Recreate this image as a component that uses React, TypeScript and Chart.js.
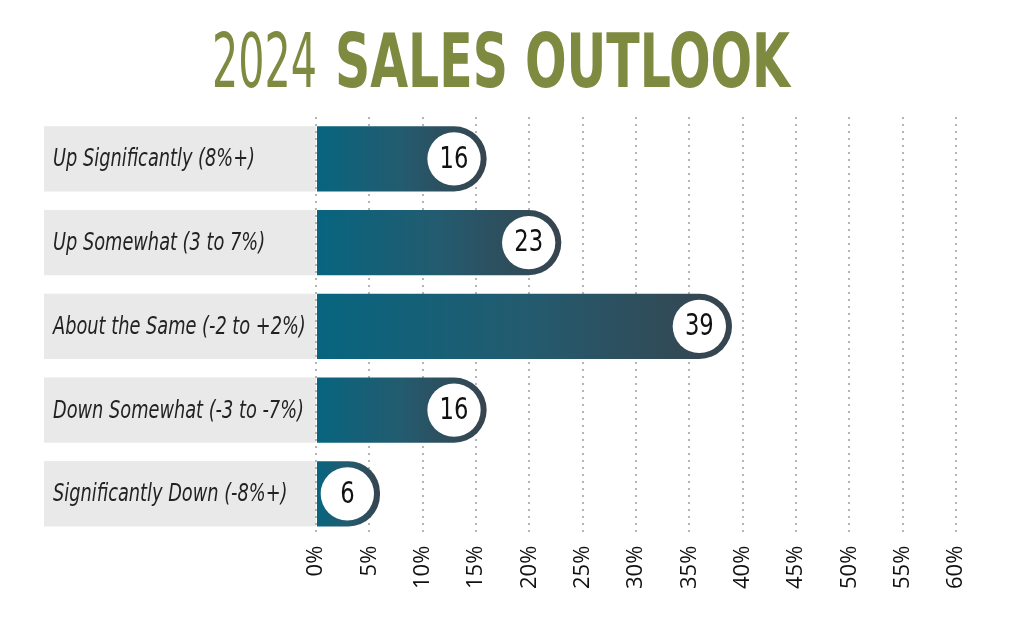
import { useRef, useEffect } from 'react';
import { Chart, registerables } from 'chart.js';

Chart.register(...registerables);

// chart data
const categories = [
  'Up Significantly (8%+)',
  'Up Somewhat (3 to 7%)',
  'About the Same (-2 to +2%)',
  'Down Somewhat (-3 to -7%)',
  'Significantly Down (-8%+)',
];
const percentages = [16, 23, 39, 16, 6];
const axisMax = 60;
const axisStep = 5;

const titleLight = '2024';
const titleBold = 'SALES OUTLOOK';

const NARROW = "'Liberation Sans Narrow', 'DejaVu Sans Condensed', 'Roboto Condensed', sans-serif";

// draw text squeezed horizontally so it reads like a condensed face
function squeezed(ctx: any, text: string, x: number, y: number, sx: number) {
  ctx.save();
  ctx.translate(x, y);
  ctx.scale(sx, 1);
  ctx.fillText(text, 0, 0);
  ctx.restore();
}

// title drawn in two weights
const titlePlugin = {
  id: 'twoWeightTitle',
  beforeDraw(chart: any) {
    const ctx = chart.ctx;
    ctx.save();
    ctx.fillStyle = '#7e8a40';
    ctx.textBaseline = 'alphabetic';
    ctx.textAlign = 'left';
    ctx.font = `normal 75px ${NARROW}`;
    const w1 = ctx.measureText(titleLight).width;
    squeezed(ctx, titleLight, 204, 79, 105 / w1);
    ctx.font = `bold 75px ${NARROW}`;
    const w2 = ctx.measureText(titleBold).width;
    squeezed(ctx, titleBold, 327, 79, 455 / w2);
    ctx.restore();
  },
};

// grey boxes and category labels on the left
const labelBoxPlugin = {
  id: 'labelBoxes',
  beforeDraw(chart: any) {
    const ctx = chart.ctx;
    const meta = chart.getDatasetMeta(0);
    const yScale = chart.scales.y;
    const left = 36;
    const right = chart.chartArea.left;
    ctx.save();
    meta.data.forEach((bar: any, i: number) => {
      const h = bar.height;
      ctx.fillStyle = '#e9e9e9';
      ctx.fillRect(left, bar.y - h / 2, right - left, h);
      ctx.fillStyle = '#222222';
      ctx.font = `italic 25px ${NARROW}`;
      ctx.textAlign = 'left';
      ctx.textBaseline = 'middle';
      squeezed(ctx, yScale.getLabelForValue(i), 45, yScale.getPixelForValue(i) + 1, 0.79);
    });
    ctx.restore();
  },
};

// white discs with the value at the rounded end of each bar
const valueDiscPlugin = {
  id: 'valueDiscs',
  afterDatasetsDraw(chart: any) {
    const ctx = chart.ctx;
    const meta = chart.getDatasetMeta(0);
    ctx.save();
    meta.data.forEach((bar: any, i: number) => {
      const half = bar.height / 2;
      const cx = bar.x - half;
      const r = half - 6;
      ctx.beginPath();
      ctx.arc(cx, bar.y, r, 0, Math.PI * 2);
      ctx.fillStyle = '#ffffff';
      ctx.fill();
      ctx.fillStyle = '#111111';
      ctx.font = `normal 30px ${NARROW}`;
      ctx.textAlign = 'center';
      ctx.textBaseline = 'middle';
      squeezed(ctx, String(percentages[i]), cx, bar.y + 1, 0.84);
    });
    ctx.restore();
  },
};

export default function App() {
  const canvasRef = useRef<HTMLCanvasElement>(null);

  useEffect(() => {
    const ctx = canvasRef.current?.getContext('2d');
    if (!ctx) return;
    const chart = new Chart(ctx, {
      type: 'bar',
      data: {
        labels: categories,
        datasets: [{
          data: percentages,
          backgroundColor: (c: any) => {
            const { chart: ch } = c;
            const xs = ch.scales?.x;
            if (!ch.chartArea || !xs || c.type !== 'data') return '#0b6483';
            const x0 = xs.getPixelForValue(0);
            const x1 = xs.getPixelForValue(c.raw);
            const g = ch.ctx.createLinearGradient(x0, 0, x1, 0);
            g.addColorStop(0, '#07657f');
            g.addColorStop(0.5, '#235b6f');
            g.addColorStop(1, '#37444e');
            return g;
          },
          borderWidth: 0,
          borderRadius: { topLeft: 0, bottomLeft: 0, topRight: 40, bottomRight: 40 },
          borderSkipped: 'start',
          barPercentage: 0.78,
          categoryPercentage: 1,
        }],
      },
      options: {
        indexAxis: 'y',
        animation: false,
        responsive: true,
        maintainAspectRatio: false,
        layout: { padding: { left: 45, right: 60, top: 109, bottom: 18 } },
        plugins: {
          legend: { display: false },
          title: { display: false },
          tooltip: { enabled: false },
        },
        scales: {
          x: {
            min: 0,
            max: axisMax,
            border: { display: false, dash: [2, 5] },
            grid: {
              color: '#b5b5b5',
              lineWidth: 2,
              drawTicks: false,
            },
            ticks: {
              stepSize: axisStep,
              minRotation: 90,
              maxRotation: 90,
              padding: 10,
              color: '#111111',
              font: { family: "'Open Sans', 'Noto Sans', sans-serif", size: 22 },
              callback: (v: any) => v + '%',
            },
          },
          y: {
            border: { display: false },
            grid: { display: false },
            afterFit: (scale: any) => { scale.width = 263; },
            ticks: { display: false },
          },
        },
      },
      plugins: [titlePlugin, labelBoxPlugin, valueDiscPlugin],
    });
    return () => chart.destroy();
  }, []);

  return (
    <div style={{ width: 1008, height: 609, position: 'relative' }}>
      <canvas ref={canvasRef} />
    </div>
  );
}
